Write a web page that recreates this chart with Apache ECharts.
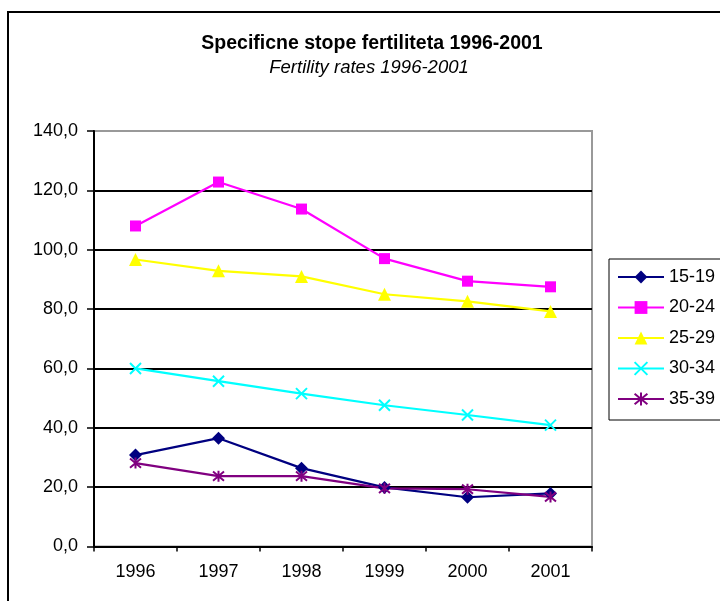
<!DOCTYPE html>
<html>
<head>
<meta charset="utf-8">
<script src="https://cdn.jsdelivr.net/npm/echarts@6/dist/echarts.min.js"></script>
<style>
  html, body { margin: 0; padding: 0; background: #fff; }
  #chart { width: 720px; height: 601px; }
</style>
</head>
<body>
<div id="chart"></div>
<script>
  // podaci
  var years = ['1996', '1997', '1998', '1999', '2000', '2001'];
  var ageGroups = ['15-19', '20-24', '25-29', '30-34', '35-39'];
  var rate15_19 = [30.8, 36.5, 26.4, 19.9, 16.6, 17.9];
  var rate20_24 = [108.0, 122.8, 113.7, 97.0, 89.4, 87.5];
  var rate25_29 = [96.7, 92.9, 91.0, 85.0, 82.6, 79.2];
  var rate30_34 = [60.0, 55.7, 51.5, 47.6, 44.3, 40.9];
  var rate35_39 = [28.1, 23.7, 23.7, 19.6, 19.3, 16.7];

  var font = 'Arial, "Liberation Sans", sans-serif';
  var chart = echarts.init(document.getElementById('chart'));

  function makeSeries(name, data, color, symbol, size, stroke) {
    return {
      name: name,
      type: 'line',
      data: data,
      symbol: symbol,
      symbolSize: size,
      showAllSymbol: true,
      lineStyle: { color: color, width: 2.2 },
      itemStyle: {
        color: color,
        borderColor: color,
        borderWidth: stroke ? 2 : 0
      },
      emphasis: { disabled: true },
      animation: false
    };
  }

  var xPath = 'path://M0,0L10,10M10,0L0,10';
  var starPath = 'path://M0,0L10,10M10,0L0,10M5,-1L5,11';

  chart.setOption({
    backgroundColor: '#fff',
    textStyle: { fontFamily: font },
    title: [
      {
        text: 'Specificne stope fertiliteta 1996-2001',
        left: 372, top: 34, textAlign: 'center', padding: 0,
        textStyle: { fontFamily: font, fontSize: 19.5, fontWeight: 'bold', color: '#000', lineHeight: 20 }
      },
      {
        text: 'Fertility rates 1996-2001',
        left: 369, top: 58, textAlign: 'center', padding: 0,
        textStyle: { fontFamily: font, fontSize: 18.5, fontStyle: 'italic', fontWeight: 'normal', color: '#000', lineHeight: 20 }
      }
    ],
    graphic: [{
      type: 'rect',
      shape: { x: 8, y: 12, width: 800, height: 700 },
      style: { fill: 'none', stroke: '#000', lineWidth: 2 },
      silent: true
    }],
    legend: {
      data: ageGroups,
      orient: 'vertical',
      left: 609, top: 259,
      padding: [9, 60, 12, 8],
      borderColor: '#000', borderWidth: 1,
      itemWidth: 46, itemHeight: 16, itemGap: 14.5 - 2,
      textStyle: { fontFamily: font, fontSize: 18, color: '#000', lineHeight: 16 }
    },
    grid: {
      left: 94, right: 128, top: 131, bottom: 54.5,
      show: true, borderColor: '#999', borderWidth: 2
    },
    xAxis: {
      type: 'category',
      data: years,
      boundaryGap: true,
      axisLine: { lineStyle: { color: '#000', width: 2 } },
      axisTick: { show: true, length: 5, lineStyle: { color: '#000', width: 1.5 } },
      axisLabel: { fontFamily: font, fontSize: 18, color: '#000', margin: 17 },
      splitLine: { show: false }
    },
    yAxis: {
      type: 'value',
      min: 0, max: 140, interval: 20,
      axisLine: { show: true, lineStyle: { color: '#000', width: 2 } },
      axisTick: { show: true, length: 7, lineStyle: { color: '#000', width: 1.5 } },
      axisLabel: {
        fontFamily: font, fontSize: 18, color: '#000', margin: 16,
        formatter: function (v) { return v.toFixed(1).replace('.', ','); }
      },
      splitLine: {
        show: true,
        lineStyle: { color: ['#000', '#000', '#000', '#000', '#000', '#000', '#000', '#999'], width: 2 }
      }
    },
    series: [
      makeSeries('15-19', rate15_19, '#000080', 'diamond', 13, false),
      makeSeries('20-24', rate20_24, '#ff00ff', 'rect', 11, false),
      makeSeries('25-29', rate25_29, '#ffff00', 'triangle', 13, false),
      makeSeries('30-34', rate30_34, '#00ffff', xPath, 11, true),
      makeSeries('35-39', rate35_39, '#800080', starPath, 11, true)
    ]
  });
</script>
</body>
</html>
